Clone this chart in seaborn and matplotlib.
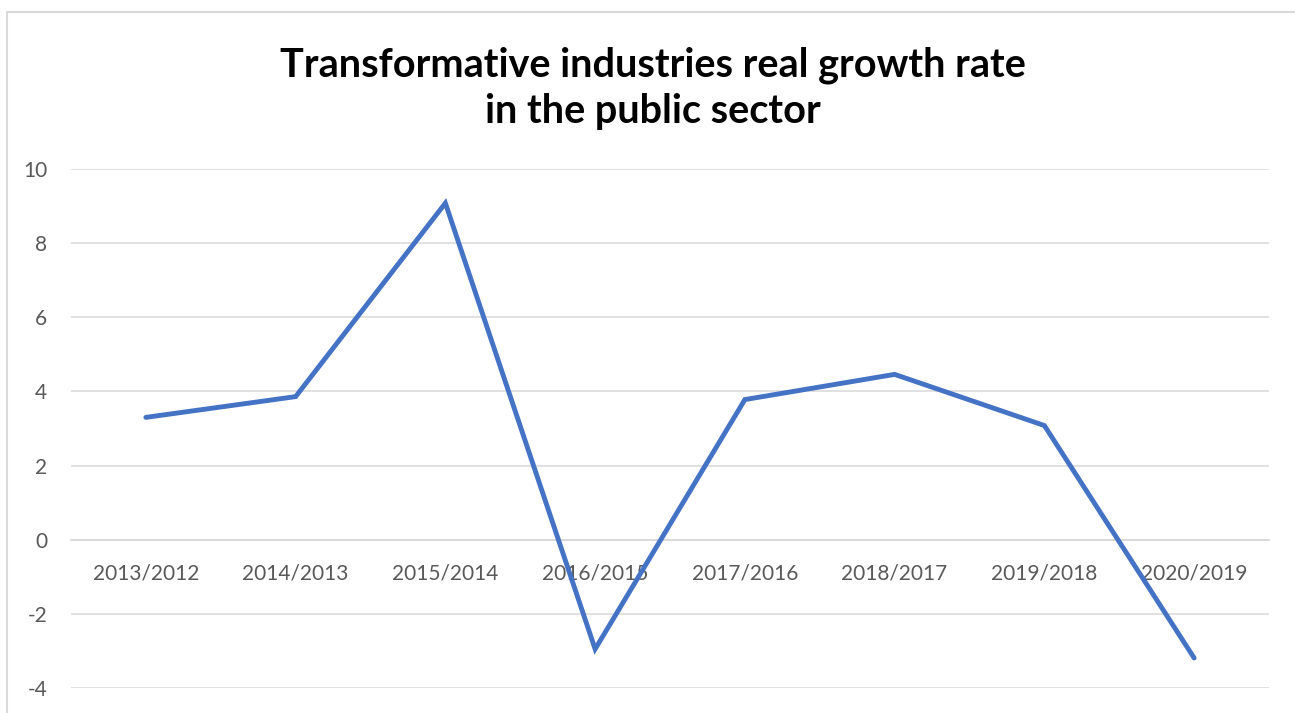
import matplotlib
matplotlib.use("Agg")
import matplotlib.pyplot as plt
import seaborn as sns
from matplotlib.patches import Rectangle

periods = ["2013/2012", "2014/2013", "2015/2014", "2016/2015",
           "2017/2016", "2018/2017", "2019/2018", "2020/2019"]
growth = [3.30, 3.86, 9.08, -2.95, 3.78, 4.46, 3.08, -3.19]
y_ticks = [-4, -2, 0, 2, 4, 6, 8, 10]

sns.set_style("white")
plt.rcParams["font.family"] = ["Lato", "DejaVu Sans"]

fig = plt.figure(figsize=(12.95, 7.13), dpi=100)
ax = fig.add_axes([71 / 1295, 1 - 688 / 713, (1269 - 71) / 1295, (688 - 169) / 713])

# outer chart border (left + top visible)
fig.patches.append(Rectangle((7 / 1295, -0.05), 1.1, 1 - 12 / 713 + 0.05,
                             transform=fig.transFigure, fill=False,
                             edgecolor="#d9d9d9", linewidth=1.5, zorder=0))

sns.lineplot(x=periods, y=growth, sort=False, ax=ax, color="#4472C4",
             linewidth=3.5, solid_capstyle="round", solid_joinstyle="miter")

ax.set_xlim(-0.5, len(periods) - 0.5)
ax.set_ylim(-4, 10)
ax.set_yticks(y_ticks)
ax.set_yticklabels([str(v) for v in y_ticks])
ax.yaxis.grid(True, color="#d9d9d9", linewidth=1.1)
ax.set_axisbelow(True)

for s in ["top", "right", "left"]:
    ax.spines[s].set_visible(False)
ax.spines["bottom"].set_position(("data", 0))
ax.spines["bottom"].set_color("#d9d9d9")
ax.spines["bottom"].set_linewidth(1.1)
ax.spines["bottom"].set_zorder(0.5)

ax.tick_params(axis="x", length=0, pad=16.8, labelsize=15, labelcolor="#595959")
ax.tick_params(axis="y", length=0, pad=17, labelsize=15, labelcolor="#595959")
ax.set_xlabel("")
ax.set_ylabel("")

fig.text(653 / 1295, 1 - 88 / 713,
         "Transformative industries real growth rate\nin the public sector",
         ha="center", va="center", fontsize=28.5, fontweight="bold",
         color="#000000", linespacing=1.3)

fig.savefig("out.png", dpi=100)
